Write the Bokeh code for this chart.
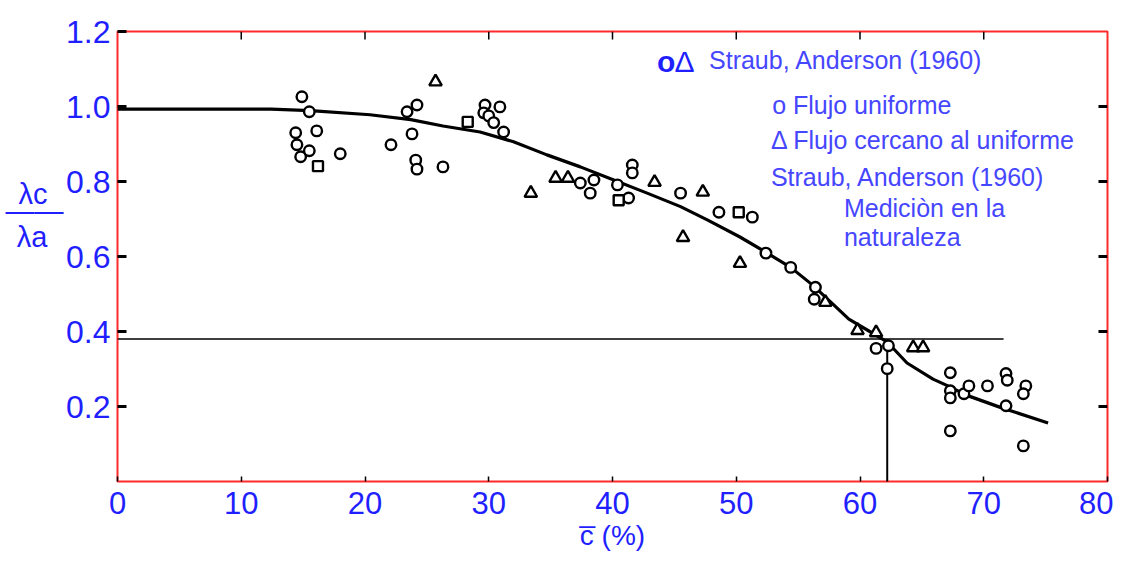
from bokeh.plotting import figure
from bokeh.models import FixedTicker, Label, Range1d, LinearAxis
from bokeh.embed import file_html
from bokeh.resources import INLINE

# ---------------- data ----------------
circle_x = [14.9, 15.5, 14.4, 14.5, 14.8, 15.5, 16.1, 18.0, 22.1, 23.8, 23.4, 24.2,
            24.1, 24.2, 26.3, 29.7, 30.9, 29.6, 30.0, 30.4, 31.2, 37.4, 38.5, 38.2,
            41.6, 41.6, 40.4, 41.3, 45.5, 48.6, 51.3, 52.4, 54.4, 56.4, 56.3, 61.3,
            62.3, 62.2, 67.3, 67.3, 67.3, 68.4, 68.8, 70.3, 71.8, 71.9, 71.8, 73.4,
            73.2, 67.3, 73.2]
circle_y = [1.026, 0.986, 0.930, 0.898, 0.866, 0.882, 0.935, 0.874, 0.898, 0.927, 0.986, 1.004,
            0.857, 0.833, 0.839, 1.004, 0.999, 0.983, 0.975, 0.957, 0.932, 0.796, 0.804, 0.769,
            0.844, 0.823, 0.791, 0.756, 0.769, 0.718, 0.705, 0.609, 0.571, 0.518, 0.486, 0.355,
            0.362, 0.301, 0.290, 0.242, 0.223, 0.234, 0.255, 0.255, 0.288, 0.270, 0.202, 0.255,
            0.234, 0.135, 0.095]

square_x = [16.2, 28.3, 40.5, 50.2]
square_y = [0.841, 0.959, 0.750, 0.718]

triangle_x = [25.7, 33.4, 35.4, 36.4, 43.4, 47.3, 45.7, 50.3, 57.2, 59.8, 61.3, 64.3, 65.1]
triangle_y = [1.066, 0.769, 0.809, 0.809, 0.798, 0.772, 0.651, 0.582, 0.478, 0.403, 0.397, 0.357, 0.357]

curve_x = [0, 12.4, 15.6, 20.4, 23.7, 26.3, 29.3, 32.0, 34.7, 37.4, 40.1, 42.8, 45.5,
           47.7, 50.3, 52.4, 54.4, 56.2, 59.1, 61.3, 62.2, 63.8, 65.9, 67.1, 68.7, 71.4, 75.2]
curve_y = [0.993, 0.993, 0.989, 0.978, 0.965, 0.948, 0.932, 0.906, 0.871, 0.839, 0.804,
           0.769, 0.733, 0.697, 0.652, 0.611, 0.571, 0.523, 0.433, 0.390, 0.372, 0.316,
           0.273, 0.255, 0.229, 0.197, 0.156]

ref_c = 62.2          # c at lambda ratio 0.38
ref_ratio = 0.38
ref_line_end = 71.6

x_ticks = [0, 10, 20, 30, 40, 50, 60, 70, 80]
y_ticks = [0.2, 0.4, 0.6, 0.8, 1.0, 1.2]
y_tick_labels = {0.2: "0.2", 0.4: "0.4", 0.6: "0.6", 0.8: "0.8", 1.0: "1.0", 1.2: "1.2"}

x_title = "c\u0305 (%)"
y_title_parts = ["\u03bbc\u00a0\u00a0", "\u2014\u2014", "\u03bba\u00a0\u00a0"]
legend_symbols = ["o", "\u0394"]
legend_title = "Straub, Anderson (1960)"
legend_lines = ["o Flujo uniforme", "\u0394 Flujo cercano al uniforme",
                "Straub, Anderson (1960)", "Medici\u00f2n en la", "naturaleza"]

FONT = "Liberation Sans"
BLUE = "#1f1fff"
LBLUE = "#4646ff"

X0, X1, Y0, Y1 = 0, 80, 0, 1.2
p = figure(width=1113, height=553, x_range=Range1d(X0, X1), y_range=Range1d(Y0, Y1),
           output_backend="svg", toolbar_location=None,
           min_border_left=117, min_border_right=6, min_border_top=31, min_border_bottom=72)
p.background_fill_color = "white"
p.border_fill_color = "white"
p.xgrid.visible = False
p.ygrid.visible = False
p.outline_line_color = "#ff2a2a"
p.outline_line_width = 2

# bottom axis
xa = p.xaxis[0]
xa.ticker = FixedTicker(ticks=x_ticks)
xa.axis_line_color = None
xa.major_tick_in = 5
xa.major_tick_out = 0
xa.major_tick_line_color = "black"
xa.major_tick_line_width = 1.5
xa.minor_tick_line_color = None
xa.major_label_text_color = BLUE
xa.major_label_text_font = FONT
xa.major_label_text_font_size = "31px"
xa.major_label_standoff = 10
xa.axis_label = x_title
xa.axis_label_text_color = BLUE
xa.axis_label_text_font = FONT
xa.axis_label_text_font_size = "28px"
xa.axis_label_text_font_style = "normal"
xa.axis_label_standoff = 3

# left axis
ya = p.yaxis[0]
ya.ticker = FixedTicker(ticks=y_ticks)
ya.major_label_overrides = y_tick_labels
ya.axis_line_color = None
ya.major_tick_in = 9
ya.major_tick_out = 0
ya.major_tick_line_color = "black"
ya.major_tick_line_width = 3
ya.minor_tick_line_color = None
ya.major_label_text_color = BLUE
ya.major_label_text_font = FONT
ya.major_label_text_font_size = "32px"
ya.major_label_standoff = 7

# y title (fraction lambda_c / lambda_a) as an outer left axis
title_pos = [0.768, 0.722, 0.651]
ya2 = LinearAxis(ticker=FixedTicker(ticks=title_pos),
                 major_label_overrides=dict(zip(title_pos, y_title_parts)))
ya2.axis_line_color = None
ya2.major_tick_line_color = None
ya2.minor_tick_line_color = None
ya2.major_tick_in = 0
ya2.major_tick_out = 0
ya2.major_label_standoff = 0
ya2.major_label_text_color = BLUE
ya2.major_label_text_font = FONT
ya2.major_label_text_font_size = "29px"
p.add_layout(ya2, "left")

# frame ticks along top and right edges (from the tick lists)
px_x = (X1 - X0) / 990.0
px_y = (Y1 - Y0) / 450.0
top_ticks = x_ticks[1:-1]
p.segment(x0=top_ticks, y0=[Y1] * len(top_ticks), x1=top_ticks,
          y1=[Y1 - 8 * px_y] * len(top_ticks), line_color="black", line_width=1.5)
right_ticks = y_ticks[:-1]
p.segment(x0=[X1] * len(right_ticks), y0=right_ticks, x1=[X1 - 9 * px_x] * len(right_ticks),
          y1=right_ticks, line_color="black", line_width=3)

# reference lines
p.line([X0, ref_line_end], [ref_ratio, ref_ratio], line_color="black", line_width=1.6)
p.line([ref_c, ref_c], [ref_ratio, Y0 - 0.01], line_color="black", line_width=2)

# fitted curve
p.line(curve_x, curve_y, line_color="black", line_width=3.2, line_join="round")

# data points
p.scatter(circle_x, circle_y, marker="circle", size=10.5, line_color="black",
          line_width=2.4, fill_color="white")
p.scatter(square_x, square_y, marker="square", size=10, line_color="black",
          line_width=2.4, fill_color="white")
p.scatter(triangle_x, triangle_y, marker="triangle", size=12.5, line_color="black",
          line_width=2.4, fill_color="white")

# legend texts
p.add_layout(Label(x=43.6, y=1.12, text=legend_symbols[0], text_align="left",
                   text_baseline="middle", text_color=BLUE, text_font=FONT,
                   text_font_size="30px", text_font_style="bold"))
p.add_layout(Label(x=45.0, y=1.12, text=legend_symbols[1], text_align="left",
                   text_baseline="middle", text_color=BLUE, text_font=FONT,
                   text_font_size="30px"))
p.add_layout(Label(x=47.8, y=1.123, text=legend_title, text_align="left",
                   text_baseline="middle", text_color=LBLUE, text_font=FONT,
                   text_font_size="25px"))
legend_pos = [(52.9, 1.005), (52.8, 0.911), (52.8, 0.812), (58.7, 0.729), (58.7, 0.651)]
for txt, (lx, ly) in zip(legend_lines, legend_pos):
    p.add_layout(Label(x=lx, y=ly, text=txt, text_align="left", text_baseline="middle",
                       text_color=LBLUE, text_font=FONT, text_font_size="25px"))

open("out.html", "w").write(file_html(p, INLINE))
